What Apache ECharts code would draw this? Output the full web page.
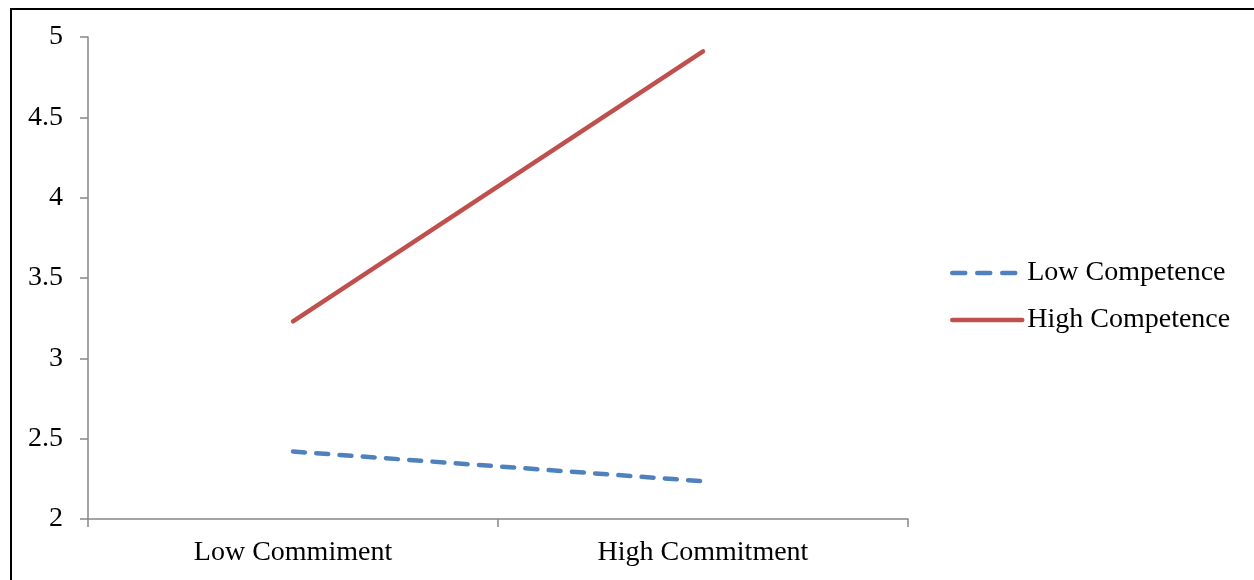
<!DOCTYPE html>
<html>
<head>
<meta charset="utf-8">
<script src="https://cdn.jsdelivr.net/npm/echarts@6/dist/echarts.min.js"></script>
<style>
html,body{margin:0;padding:0;background:#fff;}
#chart{width:1254px;height:580px;}
</style>
</head>
<body>
<div id="chart"></div>
<script>
const categories = ['Low Commiment', 'High Commitment'];
const lowCompetence = [2.42, 2.235];
const highCompetence = [3.23, 4.91];
const seriesNames = ['Low Competence', 'High Competence'];
const yTicks = { min: 2, max: 5, interval: 0.5 };

const FONT = '"Liberation Serif", "Times New Roman", serif';
const chart = echarts.init(document.getElementById('chart'), null, { renderer: 'canvas' });
chart.setOption({
  animation: false,
  backgroundColor: '#fff',
  graphic: [{
    type: 'rect', silent: true, z: 100,
    shape: { x: 11, y: 9, width: 1400, height: 700 },
    style: { fill: 'none', stroke: '#000', lineWidth: 2 }
  }],
  grid: { left: 88, right: 346, top: 37, bottom: 61, containLabel: false },
  legend: {
    orient: 'vertical', left: 950, top: 259, padding: 0,
    itemWidth: 70, itemHeight: 14, itemGap: 19,
    data: [
      { name: seriesNames[0], lineStyle: { type: [13, 12] } },
      { name: seriesNames[1] }
    ],
    itemStyle: { opacity: 0 },
    lineStyle: { width: 4.5, cap: 'round' },
    textStyle: { fontFamily: FONT, fontSize: 28, color: '#000', padding: [0, 0, 0, 0] }
  },
  xAxis: {
    type: 'category', data: categories, boundaryGap: true,
    axisLine: { lineStyle: { color: '#868686', width: 1.5 } },
    axisTick: { show: true, length: 8, alignWithLabel: false, lineStyle: { color: '#868686', width: 1.5 } },
    axisLabel: { fontFamily: FONT, fontSize: 28, color: '#000', margin: 20 },
    splitLine: { show: false }
  },
  yAxis: {
    type: 'value', min: yTicks.min, max: yTicks.max, interval: yTicks.interval,
    axisLine: { show: true, lineStyle: { color: '#868686', width: 1.5 } },
    axisTick: { show: true, length: 8, lineStyle: { color: '#868686', width: 1.5 } },
    axisLabel: { fontFamily: FONT, fontSize: 28, color: '#000', margin: 25 },
    splitLine: { show: false }
  },
  series: [
    {
      name: seriesNames[0], type: 'line', data: lowCompetence, symbol: 'none',
      lineStyle: { color: '#4F81BD', width: 4.5, type: [12, 11.3], cap: 'round' },
      itemStyle: { color: '#4F81BD' }
    },
    {
      name: seriesNames[1], type: 'line', data: highCompetence, symbol: 'none',
      lineStyle: { color: '#C0504D', width: 4.5, type: 'solid', cap: 'round' },
      itemStyle: { color: '#C0504D' }
    }
  ]
});
</script>
</body>
</html>
